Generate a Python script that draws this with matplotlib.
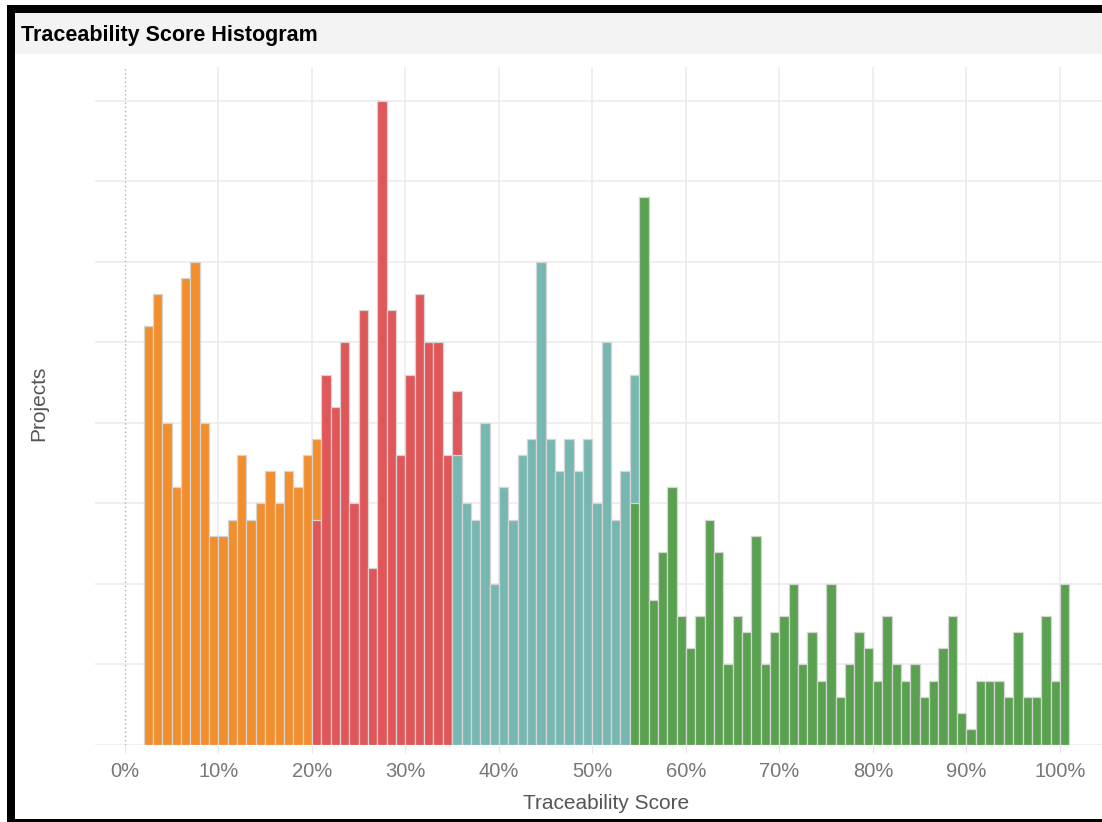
import matplotlib
matplotlib.use("Agg")
import matplotlib.pyplot as plt
from matplotlib.patches import Rectangle
import numpy as np

plt.rcParams['font.family'] = ['Liberation Sans', 'DejaVu Sans']

# projects per 1% score bin, each group starts at its own bin
orange_start = 2
orange = [26, 28, 20, 16, 29, 30, 20, 13, 13, 14, 18, 14, 15, 17, 15, 17, 16, 18, 19]
red_start = 20
red = [14, 23, 21, 25, 15, 27, 11, 40, 27, 18, 23, 28, 25, 25, 18, 22]
teal_start = 35
teal = [18, 15, 14, 20, 10, 16, 14, 18, 19, 30, 19, 17, 19, 17, 19, 15, 25, 14, 17, 23]
green_start = 54
green = [15, 34, 9, 12, 16, 8, 6, 8, 14, 12, 5, 8, 7, 13, 5, 7, 8, 10, 5, 7,
         4, 10, 3, 5, 7, 6, 4, 8, 5, 4, 5, 3, 4, 6, 8, 2, 1, 4, 4, 4,
         3, 7, 3, 3, 8, 4, 10]

xticks = list(range(0, 101, 10))
xtick_labels = [f"{t}%" for t in xticks]

groups = [(orange_start, orange, '#F28E2B'),
          (red_start, red, '#E15759'),
          (teal_start, teal, '#76B7B2'),
          (green_start, green, '#59A14F')]

W, H = 1102, 822
fig = plt.figure(figsize=(W / 100, H / 100), dpi=100)
fig.patch.set_facecolor('white')

# frame and title strip
fig.patches.append(Rectangle((15 / W, 1 - 54 / H), 1 - 15 / W, 41 / H,
                             transform=fig.transFigure, facecolor='#f3f3f3',
                             edgecolor='none', zorder=0))
fig.patches.append(Rectangle((7 / W, 0), 8 / W, 1 - 5 / H,
                             transform=fig.transFigure, facecolor='black',
                             edgecolor='none', zorder=5))
fig.patches.append(Rectangle((7 / W, 1 - 13 / H), 1 - 7 / W, 8 / H,
                             transform=fig.transFigure, facecolor='black',
                             edgecolor='none', zorder=5))
fig.patches.append(Rectangle((7 / W, 0), 1 - 7 / W, 3.5 / H,
                             transform=fig.transFigure, facecolor='black',
                             edgecolor='none', zorder=5))
fig.text(21 / W, 1 - 36 / H, "Traceability Score Histogram", fontsize=15.5,
         fontweight='bold', color='black', va='center', ha='left')

ax = fig.add_axes([95 / W, 77 / H, 1 - 95 / W, (745 - 67) / H])
ax.set_facecolor('none')

for start, vals, col in groups:
    x = np.arange(start, start + len(vals))
    ax.bar(x, vals, width=1, align='edge', color=col, edgecolor='#d4d4d4',
           linewidth=0.9, zorder=3)

ax.set_xlim(-3.2, 104.5)
ax.set_ylim(0, 42.1)
ax.set_yticks(range(0, 41, 5))
ax.set_yticklabels([])
ax.set_xticks(xticks)
ax.set_xticklabels(xtick_labels, fontsize=14.5, color='#777777')
ax.tick_params(axis='y', length=0)
ax.tick_params(axis='x', length=6, color='#e6e6e6', pad=6)
ax.grid(True, color='#ececec', linewidth=1.2, zorder=0)
ax.set_axisbelow(True)
ax.xaxis.get_gridlines()[0].set_visible(False)
ax.axvline(0, color='#b0b0b0', linestyle=(0, (1, 2)), linewidth=1, zorder=1)
for s in ax.spines.values():
    s.set_visible(False)

fig.text(606 / W, 1 - 803 / H, "Traceability Score", fontsize=15,
         color='#555555', ha='center', va='center')
fig.text(39 / W, 1 - 403 / H, "Projects", fontsize=15, color='#555555',
         ha='center', va='center', rotation=90)

fig.savefig("out.png", dpi=100)
